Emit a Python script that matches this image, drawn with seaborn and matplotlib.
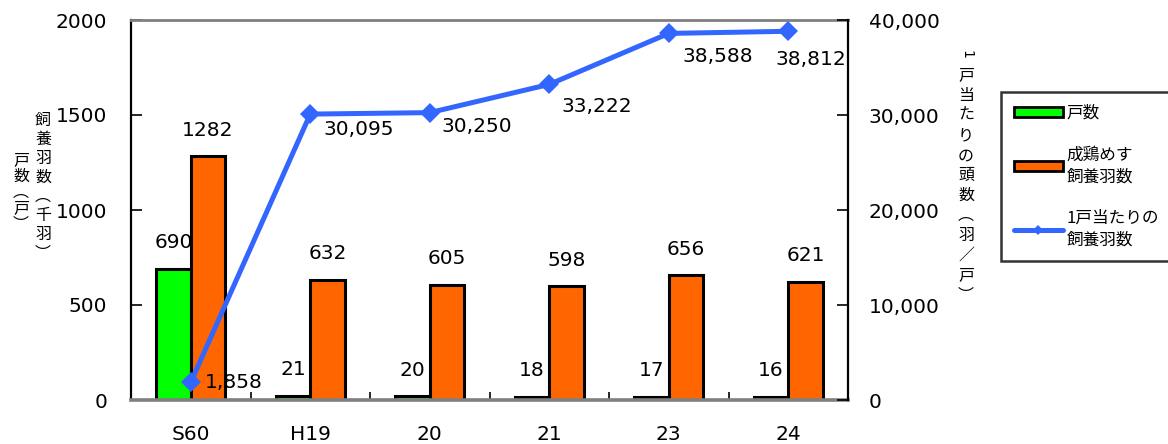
import numpy as np
import pandas as pd
import matplotlib
matplotlib.use("Agg")
import matplotlib.pyplot as plt
import seaborn as sns
from matplotlib.ticker import FixedLocator, FuncFormatter
from matplotlib.patches import Patch
from matplotlib.lines import Line2D

# --- data -------------------------------------------------------------
years = ["S60", "H19", "20", "21", "23", "24"]
households = [690, 21, 20, 18, 17, 16]                 # 戸数 (戸)
hens_thousand = [1282, 632, 605, 598, 656, 621]         # 成鶏めす飼養羽数 (千羽)
hens_per_household = [1858, 30095, 30250, 33222, 38588, 38812]  # 1戸当たり (羽/戸)

bar_names = ["戸数", "成鶏めす\n飼養羽数"]
line_name = "1戸当たりの\n飼養羽数"

# --- style ------------------------------------------------------------
GREEN = "#00FF00"
ORANGE = "#FF6600"
BLUE = "#3366FF"
GRAY = "#808080"

sns.set_theme(style="white")
plt.rcParams["font.family"] = ["DejaVu Sans", "Noto Sans CJK JP"]
plt.rcParams["text.color"] = "black"

fig = plt.figure(figsize=(11.68, 4.44), dpi=100)
W, H = 1168, 444
ax = fig.add_axes([131 / W, 44 / H, 717 / W, 380 / H])

df = pd.DataFrame({
    "year": years * 2,
    "value": households + hens_thousand,
    "series": [bar_names[0]] * len(years) + [bar_names[1]] * len(years),
})

sns.barplot(data=df, x="year", y="value", hue="series",
            palette=[GREEN, ORANGE], saturation=1, width=0.575, gap=0,
            edgecolor="black", linewidth=2.2, legend=False, ax=ax)

for cont in ax.containers:
    ax.bar_label(cont, padding=12, fontsize=14.5, color="black")

ax.set_xlim(-0.5, len(years) - 0.5)
ax.set_ylim(0, 2000)
ax.set_yticks([0, 500, 1000, 1500, 2000])
ax.set_xlabel("")
ax.set_ylabel("")
ax.tick_params(axis="y", direction="in", length=8, width=1.2, color="black",
               pad=17, labelsize=14.5, labelcolor="black", left=True)
ax.tick_params(axis="x", which="major", length=0, pad=18, labelsize=14.5,
               labelcolor="black")
ax.xaxis.set_minor_locator(FixedLocator(np.arange(0.5, len(years) - 0.5, 1)))
ax.tick_params(axis="x", which="minor", direction="in", length=6, width=1.2,
               color="black", bottom=True)

# --- per-household line on secondary axis ------------------------------
ax2 = ax.twinx()
xpos = np.arange(len(years))
sns.lineplot(x=xpos, y=hens_per_household, ax=ax2, color=BLUE, linewidth=3.6,
             marker="D", markersize=10, markeredgewidth=0, zorder=5)
ax2.set_xlim(-0.5, len(years) - 0.5)
ax2.set_ylim(0, 40000)
ax2.set_yticks(range(0, 40001, 10000))
ax2.yaxis.set_major_formatter(FuncFormatter(lambda v, p: f"{int(v):,}"))
ax2.set_ylabel("")
ax2.tick_params(axis="y", direction="in", length=8, width=1.2, color="black",
                pad=15, labelsize=14.5, labelcolor="black", right=True)

label_offsets = [(14, 0), (13, -15), (12, -14), (12, -22), (14, -23), (-13, -28)]
for x, v, (dx, dy) in zip(xpos, hens_per_household, label_offsets):
    ax2.annotate(f"{v:,}", (x, v), xytext=(dx, dy), textcoords="offset pixels",
                 ha="left", va="center", fontsize=14.5, color="black")

# --- frame ------------------------------------------------------------
for a in (ax, ax2):
    for s in a.spines.values():
        s.set_visible(False)
ax.spines["left"].set_visible(True)
ax.spines["left"].set_color("black")
ax.spines["left"].set_linewidth(1.6)
ax.spines["top"].set_visible(True)
ax.spines["top"].set_color(GRAY)
ax.spines["top"].set_linewidth(2)
ax.spines["bottom"].set_visible(True)
ax.spines["bottom"].set_color(GRAY)
ax.spines["bottom"].set_linewidth(2.6)
ax2.spines["right"].set_visible(True)
ax2.spines["right"].set_color("black")
ax2.spines["right"].set_linewidth(1.6)


# --- vertical (tategaki) axis titles -----------------------------------
def vertical_text(x_px, y_top_px, chars, step_px, size):
    for i, ch in enumerate(chars):
        fig.text(x_px / W, 1 - (y_top_px + i * step_px) / H, ch,
                 ha="center", va="top", fontsize=size,
                 family=["Noto Sans CJK JP", "DejaVu Sans"])


vertical_text(21, 152, ["戸", "数", "︵", "戸", "︶"], 16, 11.5)
vertical_text(43, 112, ["飼", "養", "羽", "数", "︵", "千", "羽", "︶"], 19, 11.5)
fig.text(966 / W, 1 - 50 / H, "1", rotation=-90, ha="center", va="top",
         fontsize=10, color="black")
vertical_text(966, 67, ["戸", "当", "た", "り", "の", "頭", "数", "︵", "羽", "／", "戸", "︶"],
              20, 11.5)

# --- legend -----------------------------------------------------------
handles = [
    Patch(facecolor=GREEN, edgecolor="black", linewidth=2),
    Patch(facecolor=ORANGE, edgecolor="black", linewidth=2),
    Line2D([0], [0], color=BLUE, linewidth=3.6, marker="D", markersize=5,
           markeredgewidth=0),
]
leg = fig.legend(handles, [bar_names[0], bar_names[1], line_name],
                 loc="upper left", bbox_to_anchor=(1001 / W, 1 - 92 / H),
                 frameon=True, fancybox=False, fontsize=12,
                 handlelength=2.95, handleheight=0.55, handletextpad=0.25,
                 labelspacing=1.5, borderpad=0.75, borderaxespad=0)
leg.get_frame().set_edgecolor("black")
leg.get_frame().set_linewidth(1.8)
for t in leg.get_texts():
    t.set_linespacing(1.35)
    t.set_family(["Noto Sans CJK JP", "DejaVu Sans"])

fig.savefig("out.png", dpi=100, facecolor="white")
